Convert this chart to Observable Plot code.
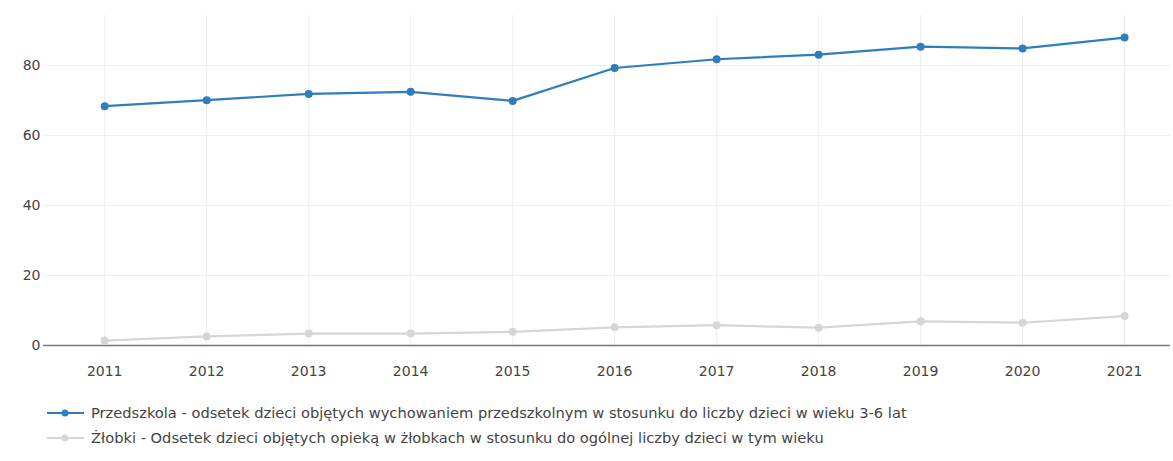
<!DOCTYPE html>
<html>
<head>
<meta charset="utf-8">
<script src="https://cdn.jsdelivr.net/npm/d3@7"></script>
<script src="https://cdn.jsdelivr.net/npm/@observablehq/plot@0.6"></script>
<style>
  body { margin: 0; background: #fff; font-family: "DejaVu Sans", Verdana, sans-serif; }
  #legend { padding: 10px 0 0 47px; font-size: 14.65px; color: #444; }
  .row { display: flex; align-items: center; height: 25px; }
  .row svg { margin-right: 7px; }
</style>
</head>
<body>
<div id="chart"></div>
<div id="legend"></div>
<script>
const years = [2011, 2012, 2013, 2014, 2015, 2016, 2017, 2018, 2019, 2020, 2021];
const przedszkola = [68.4, 70.1, 71.9, 72.5, 69.9, 79.3, 81.8, 83.1, 85.4, 84.9, 88.0];
const zlobki = [1.4, 2.6, 3.4, 3.4, 3.9, 5.2, 5.8, 5.1, 6.9, 6.5, 8.4];
const seriesNames = [
  "Przedszkola - odsetek dzieci objętych wychowaniem przedszkolnym w stosunku do liczby dzieci w wieku 3-6 lat",
  "Żłobki - Odsetek dzieci objętych opieką w żłobkach w stosunku do ogólnej liczby dzieci w tym wieku"
];
const colors = ["#2e7ebf", "#d4d7d7"];
const yTicks = [0, 20, 40, 60, 80];

const data = [];
years.forEach((y, i) => {
  data.push({year: y, value: przedszkola[i], series: seriesNames[0]});
  data.push({year: y, value: zlobki[i], series: seriesNames[1]});
});
const zl = data.filter(d => d.series === seriesNames[1]);
const pr = data.filter(d => d.series === seriesNames[0]);

const chart = Plot.plot({
  width: 1173,
  height: 390,
  marginLeft: 43,
  marginRight: 3,
  marginTop: 15,
  marginBottom: 45,
  style: {fontFamily: "DejaVu Sans, Verdana, sans-serif", fontSize: "14px", color: "#444", background: "#fff"},
  x: {domain: [2010.4, 2021.45], ticks: years, tickFormat: "d", tickSize: 0, tickPadding: 21, label: null},
  y: {domain: [0, 94.3], ticks: yTicks, tickSize: 0, tickPadding: 3, label: null},
  marks: [
    Plot.gridX(years, {stroke: "#eee", strokeOpacity: 1, strokeWidth: 1}),
    Plot.gridY(yTicks.filter(t => t > 0), {stroke: "#eee", strokeOpacity: 1, strokeWidth: 1}),
    Plot.axisX({ticks: years, tickFormat: "d", tickSize: 0, tickPadding: 21, fill: "#444", fontSize: 14}),
    Plot.axisY({ticks: yTicks, tickSize: 0, tickPadding: 3, fill: "#444", fontSize: 14}),
    Plot.ruleY([0], {stroke: "#777", strokeWidth: 1.5}),
    Plot.line(zl, {x: "year", y: "value", stroke: colors[1], strokeWidth: 2.2}),
    Plot.dot(zl, {x: "year", y: "value", fill: colors[1], r: 4}),
    Plot.line(pr, {x: "year", y: "value", stroke: colors[0], strokeWidth: 2.2}),
    Plot.dot(pr, {x: "year", y: "value", fill: colors[0], r: 4})
  ]
});
document.getElementById("chart").appendChild(chart);

const legend = document.getElementById("legend");
seriesNames.forEach((name, i) => {
  const row = document.createElement("div");
  row.className = "row";
  row.innerHTML = `<svg width="37" height="10"><line x1="0" y1="5" x2="37" y2="5" stroke="${colors[i]}" stroke-width="2"/><circle cx="18" cy="5" r="3.5" fill="${colors[i]}"/></svg><span>${name}</span>`;
  legend.appendChild(row);
});
</script>
</body>
</html>
